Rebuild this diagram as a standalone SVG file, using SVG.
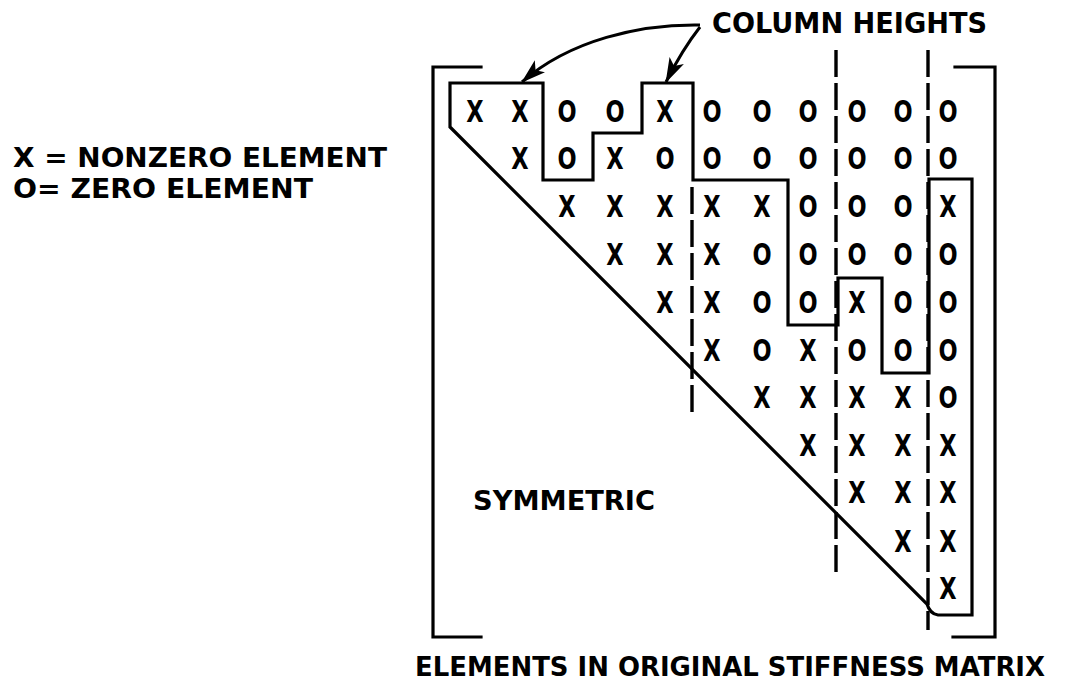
<svg xmlns="http://www.w3.org/2000/svg" width="1065" height="694" viewBox="0 0 1065 694">
<defs>
<style>
.lbl{font-family:"DejaVu Sans","Liberation Sans",sans-serif;font-weight:bold;fill:#000}
.cell{font-family:"DejaVu Sans","Liberation Sans",sans-serif;font-weight:bold;font-size:30px;fill:#000;text-anchor:middle}
.ln{fill:none;stroke:#000;stroke-width:3.2;stroke-linejoin:miter;stroke-linecap:square}
.dash{fill:none;stroke:#000;stroke-width:3.4;stroke-dasharray:27 6}
.arr{fill:none;stroke:#000;stroke-width:3}
</style>
<marker id="ah" markerUnits="userSpaceOnUse" markerWidth="28" markerHeight="18" refX="24" refY="8" orient="auto">
<path d="M0,0 L25,8 L0,16 L6,8 Z" fill="#000"/>
</marker>
</defs>
<rect width="1065" height="694" fill="#fff"/>

<g id="legend">
<text class="lbl" x="13" y="167" font-size="26" textLength="374" lengthAdjust="spacingAndGlyphs">X = NONZERO  ELEMENT</text>
<text class="lbl" x="13" y="198" font-size="26" textLength="300" lengthAdjust="spacingAndGlyphs">O= ZERO ELEMENT</text>
</g>

<g id="brackets">
<path class="ln" d="M481,67 L433,67 L433,637 L481,637"/>
<path class="ln" d="M955,67 L995,67 L995,637 L953,637"/>
</g>

<g id="profile">
<path class="ln" d="M450,83 L543,83 L543,180 L593,180 L593,133 L642,133 L642,83 L693,83 L693,180 L788,180 L788,325 L838,325 L838,278 L882,278 L882,373 L929,373 L929,179 L972,179 L972,615 L938,615 Q930,614 927,604 L450,127 Z"/>
</g>

<g id="partitions">
<line class="dash" x1="692" y1="187" x2="692" y2="418"/>
<line class="dash" x1="836" y1="50" x2="836" y2="573"/>
<line class="dash" x1="928" y1="50" x2="928" y2="630"/>
</g>

<g id="column-heights">
<text class="lbl" x="712" y="33" font-size="28" textLength="275" lengthAdjust="spacingAndGlyphs">COLUMN HEIGHTS</text>
</g>

<g id="connectors">
<path class="arr" d="M700,25 C640,24 570,40 522,82" marker-end="url(#ah)"/>
<path class="arr" d="M700,27 Q682,50 666,82" marker-end="url(#ah)"/>
</g>

<g id="matrix" transform="scale(0.75 1)">
<g id="row0">
<text class="cell" x="633.3" y="122">X</text><text class="cell" x="693.3" y="122">X</text><text class="cell" x="756" y="122">O</text><text class="cell" x="820" y="122">O</text><text class="cell" x="886.7" y="122">X</text><text class="cell" x="949.3" y="122">O</text><text class="cell" x="1016" y="122">O</text><text class="cell" x="1077.3" y="122">O</text><text class="cell" x="1142.7" y="122">O</text><text class="cell" x="1204" y="122">O</text><text class="cell" x="1264" y="122">O</text>
</g>
<g id="row1">
<text class="cell" x="693.3" y="169">X</text><text class="cell" x="756" y="169">O</text><text class="cell" x="820" y="169">X</text><text class="cell" x="886.7" y="169">O</text><text class="cell" x="949.3" y="169">O</text><text class="cell" x="1016" y="169">O</text><text class="cell" x="1077.3" y="169">O</text><text class="cell" x="1142.7" y="169">O</text><text class="cell" x="1204" y="169">O</text><text class="cell" x="1264" y="169">O</text>
</g>
<g id="row2">
<text class="cell" x="756" y="217">X</text><text class="cell" x="820" y="217">X</text><text class="cell" x="886.7" y="217">X</text><text class="cell" x="949.3" y="217">X</text><text class="cell" x="1016" y="217">X</text><text class="cell" x="1077.3" y="217">O</text><text class="cell" x="1142.7" y="217">O</text><text class="cell" x="1204" y="217">O</text><text class="cell" x="1264" y="217">X</text>
</g>
<g id="row3">
<text class="cell" x="820" y="265">X</text><text class="cell" x="886.7" y="265">X</text><text class="cell" x="949.3" y="265">X</text><text class="cell" x="1016" y="265">O</text><text class="cell" x="1077.3" y="265">O</text><text class="cell" x="1142.7" y="265">O</text><text class="cell" x="1204" y="265">O</text><text class="cell" x="1264" y="265">O</text>
</g>
<g id="row4">
<text class="cell" x="886.7" y="313">X</text><text class="cell" x="949.3" y="313">X</text><text class="cell" x="1016" y="313">O</text><text class="cell" x="1077.3" y="313">O</text><text class="cell" x="1142.7" y="313">X</text><text class="cell" x="1204" y="313">O</text><text class="cell" x="1264" y="313">O</text>
</g>
<g id="row5">
<text class="cell" x="949.3" y="361">X</text><text class="cell" x="1016" y="361">O</text><text class="cell" x="1077.3" y="361">X</text><text class="cell" x="1142.7" y="361">O</text><text class="cell" x="1204" y="361">O</text><text class="cell" x="1264" y="361">O</text>
</g>
<g id="row6">
<text class="cell" x="1016" y="408">X</text><text class="cell" x="1077.3" y="408">X</text><text class="cell" x="1142.7" y="408">X</text><text class="cell" x="1204" y="408">X</text><text class="cell" x="1264" y="408">O</text>
</g>
<g id="row7">
<text class="cell" x="1077.3" y="456">X</text><text class="cell" x="1142.7" y="456">X</text><text class="cell" x="1204" y="456">X</text><text class="cell" x="1264" y="456">X</text>
</g>
<g id="row8">
<text class="cell" x="1142.7" y="503">X</text><text class="cell" x="1204" y="503">X</text><text class="cell" x="1264" y="503">X</text>
</g>
<g id="row9">
<text class="cell" x="1204" y="552">X</text><text class="cell" x="1264" y="552">X</text>
</g>
<g id="row10">
<text class="cell" x="1264" y="599">X</text>
</g>
</g>

<g id="symmetric">
<text class="lbl" x="473" y="510" font-size="27" textLength="182" lengthAdjust="spacingAndGlyphs">SYMMETRIC</text>
</g>

<g id="caption">
<text class="lbl" x="415" y="676" font-size="26" textLength="630" lengthAdjust="spacingAndGlyphs">ELEMENTS IN ORIGINAL STIFFNESS MATRIX</text>
</g>
</svg>
